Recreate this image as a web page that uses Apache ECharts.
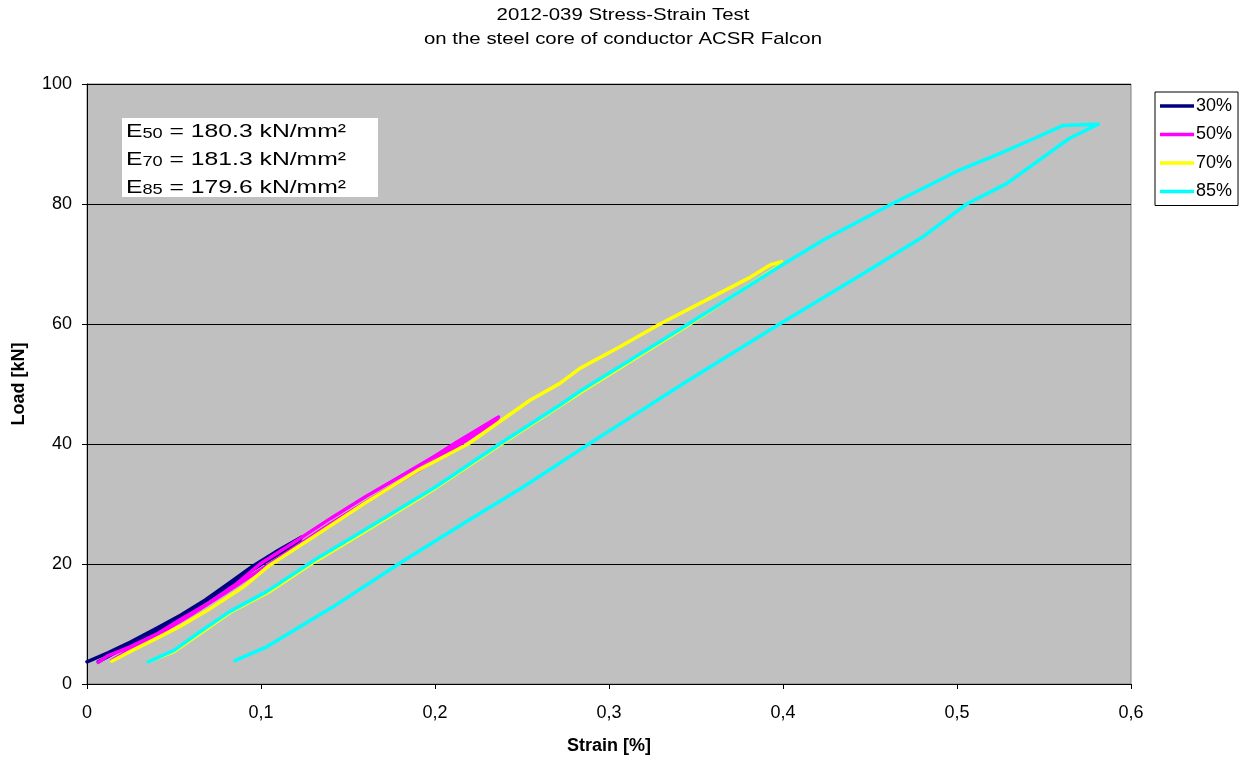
<!DOCTYPE html>
<html>
<head>
<meta charset="utf-8">
<script src="https://cdn.jsdelivr.net/npm/echarts@6/dist/echarts.min.js"></script>
<style>html,body{margin:0;padding:0;background:#fff}#c{width:1250px;height:760px}</style>
</head>
<body>
<div id="c"></div>
<script>
// ---- data (strain [%], load [kN]) ----
const titleLines = ['2012-039 Stress-Strain Test', 'on the steel core of conductor ACSR Falcon'];
const seriesNames = ['30%', '50%', '70%', '85%'];
const xTicks = [0, 0.1, 0.2, 0.3, 0.4, 0.5, 0.6];
const yTicks = [0, 20, 40, 60, 80, 100];

const load30 = [[0,3.7],[0.012,5.2],[0.025,7.0],[0.04,9.3],[0.054,11.5],[0.068,14.0],[0.082,16.9],[0.095,19.6],[0.11,22.3],[0.1234,24.5]];
const unload30 = [[0.1215,23.6],[0.1,19.9],[0.08,16.1],[0.06,12.3],[0.04,8.8],[0.02,5.8],[0.0065,3.7]];

const load50 = [[0.0065,3.6],[0.012,4.7],[0.0247,6.2],[0.04,8.3],[0.0534,10.7],[0.07,13.5],[0.085,16.5],[0.0994,20],[0.12,23.8],[0.14,27.6],[0.16,31.2],[0.18,34.6],[0.2,38],[0.2124,40.3],[0.2365,44.5]];
const unload50 = [[0.235,43.9],[0.22,41.0],[0.2,37.3],[0.18,33.8],[0.16,30.3],[0.14,26.7],[0.12,22.9],[0.1,19.1],[0.08,15.3],[0.06,11.6],[0.04,8.1],[0.025,5.8],[0.0142,3.9]];

const load70 = [[0.0142,3.8],[0.0247,5.4],[0.04,7.6],[0.0534,9.6],[0.07,12.4],[0.09,16.2],[0.105,19.8],[0.13,24.5],[0.16,30.2],[0.19,35.6],[0.219,40.0],[0.2546,47.3],[0.2718,50.1],[0.2833,52.6],[0.3063,56.2],[0.3293,60.0],[0.36,64.6],[0.38,67.6],[0.393,69.9],[0.3992,70.4]];
const unload70 = [[0.396,69.4],[0.3466,60],[0.2843,48.7],[0.237,39.8],[0.2,32.6],[0.171,27.4],[0.1464,23.1],[0.132,20.6],[0.1043,15.3],[0.0832,12.1],[0.066,8.6],[0.05,5.4],[0.036,3.8]];

const load85 = [[0.0352,3.7],[0.05,5.6],[0.065,8.7],[0.0822,12.1],[0.1033,15.4],[0.131,20.7],[0.1454,23.2],[0.17,27.5],[0.2,32.8],[0.236,39.8],[0.2718,46.5],[0.2833,48.8],[0.3456,60],[0.398,69.6],[0.4232,74],[0.4625,80],[0.5017,85.7],[0.5228,88.2],[0.545,91],[0.5611,93.1],[0.572,93.2],[0.5812,93.3]];
const unload85 = [[0.5649,91.0],[0.5285,83.4],[0.5056,80],[0.4807,74.6],[0.4462,68.4],[0.398,60],[0.3446,50.4],[0.289,40.1],[0.25,32.7],[0.22,27.4],[0.1828,20.7],[0.1416,12.9],[0.1033,6.2],[0.085,3.9]];

const modulus = [['50', '180.3'], ['70', '181.3'], ['85', '179.6']];

const colors = ['#000080', '#FF00FF', '#FFFF00', '#00FFFF'];
const loops = [load30.concat(unload30), load50.concat(unload50), load70.concat(unload70), load85.concat(unload85)];

const FONT = '"Liberation Sans", Arial, sans-serif';
const chart = echarts.init(document.getElementById('c'), null, {renderer: 'canvas'});

const annText = modulus.map(m => '{t|E}{s|' + m[0] + '}{t| = ' + m[1] + ' kN/mm²}').join('\n');

chart.setOption({
  animation: false,
  backgroundColor: '#ffffff',
  grid: {left: 87, right: 119, top: 84, bottom: 76, show: true, backgroundColor: '#C0C0C0', borderColor: '#808080', borderWidth: 1},
  legend: {
    data: seriesNames,
    orient: 'vertical', left: 1155, top: 92,
    backgroundColor: '#fff', borderColor: '#000', borderWidth: 1,
    padding: [4, 6, 4, 5],
    icon: 'rect',
    itemWidth: 34, itemHeight: 3.5, itemGap: 8.5,
    textStyle: {fontFamily: FONT, fontSize: 18, color: '#000', lineHeight: 20, padding: [0, 0, 0, -3]}
  },
  xAxis: {
    type: 'value', min: 0, max: 0.6, interval: 0.1,
    name: 'Strain [%]', nameLocation: 'middle', nameGap: 53,
    nameTextStyle: {fontFamily: FONT, fontSize: 18, fontWeight: 'bold', color: '#000'},
    axisLine: {show: true, lineStyle: {color: '#000', width: 1}},
    axisTick: {show: true, inside: false, length: 5, lineStyle: {color: '#000'}},
    axisLabel: {fontFamily: FONT, fontSize: 18, color: '#000', margin: 20,
      formatter: v => (Math.round(v * 10) / 10).toString().replace('.', ',')},
    splitLine: {show: false}
  },
  yAxis: {
    type: 'value', min: 0, max: 100, interval: 20,
    name: 'Load [kN]', nameLocation: 'middle', nameGap: 59, nameRotate: 90,
    nameTextStyle: {fontFamily: FONT, fontSize: 18, fontWeight: 'bold', color: '#000'},
    axisLine: {show: true, lineStyle: {color: '#000', width: 1}},
    axisTick: {show: true, inside: false, length: 5, lineStyle: {color: '#000'}},
    axisLabel: {fontFamily: FONT, fontSize: 18, color: '#000', margin: 15},
    splitLine: {show: true, lineStyle: {color: '#000', width: 1}}
  },
  series: seriesNames.map((n, i) => ({
    name: n, type: 'line', data: loops[i], showSymbol: false, symbol: 'none',
    smooth: false, color: colors[i],
    lineStyle: {color: colors[i], width: 3.5, join: 'round', cap: 'round'},
    z: 2 + i
  })),
  graphic: [
    {
      type: 'text', x: 623, y: 3, scaleX: 1.2, z: 100,
      style: {text: titleLines.join('\n'), fill: '#000', font: '17px ' + FONT,
        align: 'center', lineHeight: 24}
    },
    {type: 'rect', x: 122, y: 118, shape: {x: 0, y: 0, width: 256, height: 79}, style: {fill: '#fff'}, z: 100},
    {
      type: 'text', x: 126, y: 117.5, scaleX: 1.3, z: 101,
      style: {
        text: annText, fill: '#000', font: '19px ' + FONT,
        rich: {
          t: {fontFamily: FONT, fontSize: 19, lineHeight: 28, fill: '#000'},
          s: {fontFamily: FONT, fontSize: 14, lineHeight: 28, fill: '#000', padding: [5, 0, 0, 0]}
        }
      }
    }
  ]
});
</script>
</body>
</html>
